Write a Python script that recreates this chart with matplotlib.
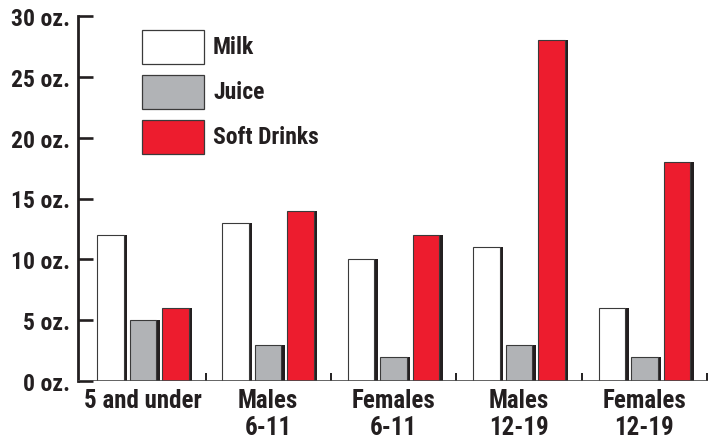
import matplotlib
matplotlib.use("Agg")
import matplotlib.pyplot as plt
from matplotlib.patches import Rectangle
import numpy as np

plt.rcParams['font.family'] = ['Roboto Condensed', 'Liberation Sans Narrow', 'DejaVu Sans']
plt.rcParams['font.weight'] = 'bold'

categories = ["5 and under", "Males\n6-11", "Females\n6-11", "Males\n12-19", "Females\n12-19"]
series_names = ["Milk", "Juice", "Soft Drinks"]
milk = [12, 13, 10, 11, 6]
juice = [5, 3, 2, 3, 2]
soft = [6, 14, 12, 28, 18]
yticks = [0, 5, 10, 15, 20, 25, 30]
ytick_labels = ["0 oz.", "5 oz.", "10 oz.", "15 oz.", "20 oz.", "25 oz.", "30 oz."]

colors = ["#FFFFFF", "#B1B3B6", "#ED1C2E"]
ink = "#231F20"

W, H = 715, 439
fig = plt.figure(figsize=(W / 100, H / 100), dpi=100)
ax_l, ax_r, ax_b, ax_t = 78, 708, 382, 17
ax = fig.add_axes([ax_l / W, (H - ax_b) / H, (ax_r - ax_l) / W, (ax_b - ax_t) / H])

x = np.arange(len(categories))
px = (ax_r - ax_l) / (4.507 + 0.517)  # pixels per data unit
ax.set_xlim(-0.517, 4.507)
ax.set_ylim(0, 30)

bw = 26.5 / px
pitch = 32.5 / px
shadow = 3.5 / px
for k, vals in enumerate([milk, juice, soft]):
    xs = x + (k - 1) * pitch
    ax.bar(xs + shadow, vals, width=bw, color=ink, linewidth=0, zorder=2)
    ax.bar(xs, vals, width=bw, color=colors[k], edgecolor="#3a3a3a", linewidth=0.8, zorder=3)

# baseline
ax.axhline(0, color="#4a4a4a", linewidth=1.2, zorder=4)

for s in ["top", "right", "bottom"]:
    ax.spines[s].set_visible(False)
ax.spines["left"].set_linewidth(2.0)
ax.spines["left"].set_color(ink)

ax.set_yticks(yticks)
ax.set_yticklabels(ytick_labels, fontsize=17, fontweight="bold", color=ink)
ax.tick_params(axis="y", direction="in", length=10.8, width=1.9, color=ink, pad=6)

ax.set_xticks(x)
ax.set_xticklabels(categories, fontsize=18, fontweight="bold", color=ink, linespacing=1.15)
ax.set_xticks(list(x + 0.5), minor=True)
ax.tick_params(axis="x", which="major", length=0, pad=5)
ax.tick_params(axis="x", which="minor", direction="in", length=5.8, width=1.4, color=ink)

# legend (manual)
box_l, box_w, box_h = 142, 62, 34
tops = [31, 75.5, 121]
for k, name in enumerate(series_names):
    t = tops[k]
    fig.patches.append(Rectangle((box_l / W, (H - t - box_h) / H), box_w / W, box_h / H,
                                 transform=fig.transFigure, facecolor=colors[k],
                                 edgecolor="#3a3a3a", linewidth=0.9))
    fig.text(213 / W, (H - t - box_h / 2) / H, name, fontsize=17, fontweight="bold",
             color=ink, va="center", ha="left")

fig.savefig("out.png", dpi=100)
